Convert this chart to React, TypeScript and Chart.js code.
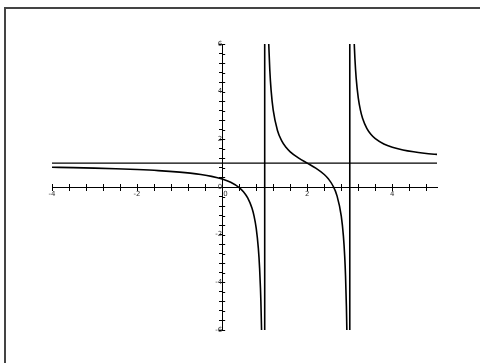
import React, { useEffect, useRef } from 'react';
import { Chart, registerables } from 'chart.js';

Chart.register(...registerables);

// y = (x^2 - 3x + 1) / (x^2 - 4x + 3)
const leftX = [-4, -3.5, -3, -2.5, -2, -1.5, -1, -0.75, -0.5, -0.25, 0, 0.2, 0.4, 0.5, 0.6, 0.7, 0.75, 0.8, 0.85, 0.88, 0.9, 0.91, 0.926];
const leftY = [0.8286, 0.812, 0.7917, 0.7662, 0.7333, 0.6889, 0.625, 0.581, 0.5238, 0.4462, 0.3333, 0.1964, -0.0256, -0.2, -0.4583, -0.8841, -1.2222, -1.7273, -2.5659, -3.4025, -4.2381, -4.7948, -6];

const midX = [1.095, 1.12, 1.15, 1.2, 1.3, 1.4, 1.5, 1.6, 1.8, 2.0, 2.2, 2.4, 2.5, 2.6, 2.7, 2.8, 2.85, 2.88, 2.9, 2.92, 2.931];
const midY = [6, 4.9007, 4.0631, 3.2222, 2.3725, 1.9375, 1.6667, 1.4762, 1.2083, 1, 0.7917, 0.5238, 0.3333, 0.0625, -0.3725, -1.2222, -2.0631, -2.9007, -3.7368, -4.9896, -6];

const rightX = [3.105, 3.12, 3.15, 3.2, 3.25, 3.3, 3.4, 3.5, 3.6, 3.8, 4.0, 4.25, 4.5, 4.75, 5.0, 5.05];
const rightY = [6, 5.4025, 4.5659, 3.7273, 3.2222, 2.8841, 2.4583, 2.2, 2.0256, 1.8036, 1.6667, 1.5538, 1.4762, 1.419, 1.375, 1.3674];

const verticalX = [1, 3];
const horizontalY = 1;

const xMin = -4;
const xMax = 5.05;
const yMin = -6;
const yMax = 6;
const minorStep = 0.4;
const labelStep = 2;

const toPoints = (xs: number[], ys: number[]) => xs.map((x, i) => ({ x, y: ys[i] }));

const makeTicks = (min: number, max: number) => {
  const out: { value: number }[] = [];
  for (let k = 0; min + k * minorStep <= max + 1e-9; k++) {
    out.push({ value: Math.round((min + k * minorStep) * 100) / 100 });
  }
  return out;
};

const labelFor = (v: number, axis: 'x' | 'y') => {
  if (Math.abs(v / labelStep - Math.round(v / labelStep)) > 1e-6) return '';
  if (Math.abs(v) < 1e-9) return axis === 'x' ? '   0' : '0';
  return String(Math.round(v));
};

const crossTicks = {
  id: 'crossTicks',
  afterDraw(chart: any) {
    const ctx = chart.ctx;
    const xs = chart.scales.x;
    const ys = chart.scales.y;
    const y0 = ys.getPixelForValue(0);
    const x0 = xs.getPixelForValue(0);
    ctx.save();
    ctx.strokeStyle = '#000';
    ctx.lineWidth = 1;
    ctx.beginPath();
    xs.ticks.forEach((t: any) => {
      const px = Math.round(xs.getPixelForValue(t.value)) + 0.5;
      ctx.moveTo(px, y0 - 3);
      ctx.lineTo(px, y0);
    });
    ys.ticks.forEach((t: any) => {
      const py = Math.round(ys.getPixelForValue(t.value)) + 0.5;
      ctx.moveTo(x0, py);
      ctx.lineTo(x0 + 3, py);
    });
    ctx.stroke();
    ctx.restore();
  },
};

export default function App() {
  const ref = useRef<HTMLCanvasElement>(null);

  useEffect(() => {
    if (!ref.current) return;
    const lineBase = {
      showLine: true,
      pointRadius: 0,
      borderColor: '#000',
      fill: false,
    };
    const chart = new Chart(ref.current, {
      type: 'scatter',
      data: {
        datasets: [
          { ...lineBase, data: toPoints(leftX, leftY), borderWidth: 1.6, cubicInterpolationMode: 'monotone' },
          { ...lineBase, data: toPoints(midX, midY), borderWidth: 1.6, cubicInterpolationMode: 'monotone' },
          { ...lineBase, data: toPoints(rightX, rightY), borderWidth: 1.6, cubicInterpolationMode: 'monotone' },
          ...verticalX.map((vx) => ({ ...lineBase, data: [{ x: vx, y: yMin }, { x: vx, y: yMax }], borderWidth: 1.6 })),
          { ...lineBase, data: [{ x: xMin, y: horizontalY }, { x: xMax, y: horizontalY }], borderWidth: 1.2 },
        ] as any,
      },
      options: {
        animation: false,
        responsive: false,
        events: [],
        layout: { padding: { left: 52, right: 43, top: 44, bottom: 33 } },
        plugins: { legend: { display: false }, tooltip: { enabled: false } },
        scales: {
          x: {
            type: 'linear',
            min: xMin,
            max: xMax,
            position: { y: 0 } as any,
            afterBuildTicks: (s: any) => { s.ticks = makeTicks(xMin, xMax); },
            grid: { drawOnChartArea: false, drawTicks: true, tickLength: 3, color: '#000', lineWidth: 1 },
            border: { display: true, color: '#000', width: 1 },
            ticks: {
              autoSkip: false,
              maxRotation: 0,
              padding: 0,
              color: '#333',
              font: { family: 'DejaVu Sans', size: 7 },
              callback: (v: any) => labelFor(Number(v), 'x'),
            },
          },
          y: {
            type: 'linear',
            min: yMin,
            max: yMax,
            position: { x: 0 } as any,
            afterBuildTicks: (s: any) => { s.ticks = makeTicks(yMin, yMax); },
            grid: { drawOnChartArea: false, drawTicks: true, tickLength: 3, color: '#000', lineWidth: 1 },
            border: { display: true, color: '#000', width: 1 },
            ticks: {
              autoSkip: false,
              padding: 1,
              color: '#333',
              font: { family: 'DejaVu Sans', size: 7 },
              callback: (v: any) => labelFor(Number(v), 'y'),
            },
          },
        },
      },
      plugins: [crossTicks],
    });
    return () => chart.destroy();
  }, []);

  return (
    <div style={{ position: 'absolute', left: 0, top: 0, width: 480, height: 363, overflow: 'hidden', background: '#fff' }}>
      <canvas ref={ref} width={480} height={363} style={{ position: 'absolute', left: 0, top: 0 }} />
      <div style={{ position: 'absolute', left: 4, top: 7, width: 600, height: 600, border: '2px solid #444', pointerEvents: 'none' }} />
    </div>
  );
}
